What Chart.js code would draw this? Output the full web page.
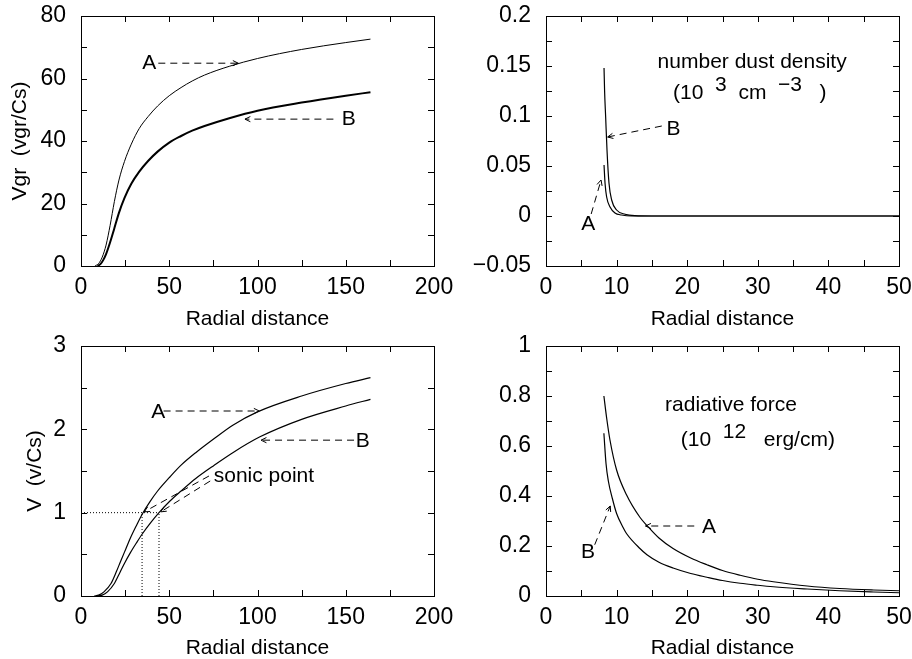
<!DOCTYPE html>
<html>
<head>
<meta charset="utf-8">
<script src="https://cdn.jsdelivr.net/npm/chart.js@4"></script>
<style>
  body { margin: 0; background: #fff; }
  canvas { position: absolute; }
</style>
</head>
<body>
<canvas id="c1" width="456" height="330" style="left:0;top:0;width:456px;height:330px"></canvas>
<canvas id="c2" width="456" height="330" style="left:456px;top:0;width:456px;height:330px"></canvas>
<canvas id="c3" width="456" height="329" style="left:0;top:330px;width:456px;height:329px"></canvas>
<canvas id="c4" width="456" height="329" style="left:456px;top:330px;width:456px;height:329px"></canvas>
<script>
// grain velocity Vgr/Cs vs radial distance
const vgrAx = [7.9, 10, 12, 14.2, 16.5, 18.9, 21.5, 24.6, 28.5, 33, 38, 43.4, 50, 56.7, 63, 70, 84, 100, 125, 150, 164];
const vgrA  = [0, 0.8, 2.8, 6.7, 13, 20.6, 27.5, 33.4, 39, 44, 47.8, 51.2, 54.5, 57.1, 59.2, 61.1, 63.9, 66.4, 69.3, 71.5, 72.6];
const vgrBx = [9.4, 11, 12.5, 14.2, 16.5, 18.9, 21.5, 24.6, 28.5, 33, 38, 43.4, 50, 56.7, 63, 70, 84, 100, 125, 150, 164];
const vgrB  = [0, 0.6, 1.8, 3.8, 7.6, 12.1, 17, 21.7, 26.3, 30.2, 33.6, 36.6, 39.5, 41.6, 43.3, 44.8, 47.3, 49.7, 52.3, 54.5, 55.6];

// number dust density (10^3 cm^-3)
const ndAx = [8.22, 8.36, 8.59, 9.07, 9.77, 10.7, 12.1, 15, 50];
const ndA  = [0.051, 0.033, 0.019, 0.009, 0.003, 0.001, 0, 0, 0];
const ndBx = [8.22, 8.3, 8.45, 8.64, 8.92, 9.3, 10, 11.2, 12.6, 15, 50];
const ndB  = [0.148, 0.125, 0.099, 0.066, 0.033, 0.016, 0.006, 0.0017, 0.0003, 0, 0];

// gas velocity V/Cs
const vAx = [7.5, 10, 13, 17, 20, 22.7, 25.5, 28.3, 31.5, 34.9, 39, 43.4, 50, 56.7, 65, 75.5, 86, 100, 125, 150, 164];
const vA  = [0, 0.01, 0.05, 0.15, 0.29, 0.43, 0.57, 0.71, 0.85, 0.99, 1.13, 1.26, 1.42, 1.57, 1.72, 1.89, 2.05, 2.21, 2.40, 2.55, 2.62];
const vBx = [9, 12, 15, 18.9, 22, 24.6, 28, 31.5, 34.9, 39.5, 44.2, 50.4, 56.7, 65, 75.5, 86, 101.4, 125, 150, 164];
const vB  = [0, 0.01, 0.05, 0.15, 0.28, 0.39, 0.52, 0.64, 0.75, 0.88, 1.0, 1.14, 1.26, 1.41, 1.57, 1.72, 1.91, 2.12, 2.28, 2.36];
const sonicA = 34.6, sonicB = 44.2;

// radiative force (10^12 erg/cm)
const frAx = [8.2, 8.6, 9.06, 10, 11.4, 13.3, 14.3, 16, 18, 20.5, 22.8, 25, 27.5, 30, 32.2, 37, 41.6, 46.4, 50];
const frA  = [0.80, 0.71, 0.624, 0.504, 0.405, 0.315, 0.282, 0.232, 0.19, 0.152, 0.125, 0.102, 0.083, 0.067, 0.057, 0.040, 0.030, 0.024, 0.021];
const frBx = [8.2, 8.5, 8.83, 9.4, 10, 10.9, 11.4, 13.3, 14.3, 16, 18, 20.5, 22.8, 25, 27.5, 30, 32.2, 37, 41.6, 46.4, 50];
const frB  = [0.651, 0.53, 0.46, 0.39, 0.33, 0.275, 0.25, 0.19, 0.165, 0.135, 0.112, 0.09, 0.075, 0.062, 0.051, 0.043, 0.037, 0.028, 0.021, 0.016, 0.013];

const FONT_FAMILY = "'Liberation Sans', Arial, sans-serif";
const FONT_SIZE = 21;
const TICK_SIZE = 23;
Chart.defaults.font.family = FONT_FAMILY;
Chart.defaults.font.size = FONT_SIZE;
Chart.defaults.color = '#000';

const pts = (xs, ys) => xs.map((x, i) => ({ x: x, y: ys[i] }));

function curve(xs, ys, w) {
    return { data: pts(xs, ys), borderColor: '#000', borderWidth: w, pointRadius: 0,
             showLine: true, cubicInterpolationMode: 'monotone', fill: false };
}
function seg(a, b, dash, isArrow) {
    return { data: [{ x: a[0], y: a[1] }, { x: b[0], y: b[1] }], borderColor: '#000', borderWidth: 1,
             borderDash: dash, pointRadius: 0, showLine: true, fill: false, arrow: isArrow };
}
const arrow = (a, b) => seg(a, b, [7, 5], true);
const dotted = (a, b) => seg(a, b, [1, 2], false);

// box with inward ticks on all four sides
const frame = {
    id: 'frame',
    afterDraw(chart) {
        const { ctx, chartArea: a, scales } = chart;
        ctx.save();
        ctx.strokeStyle = '#000';
        ctx.lineWidth = 1;
        ctx.strokeRect(a.left + 0.5, a.top + 0.5, a.width, a.height);
        ctx.beginPath();
        scales.x.ticks.forEach(t => {
            const p = Math.round(scales.x.getPixelForValue(t.value)) + 0.5;
            ctx.moveTo(p, a.bottom); ctx.lineTo(p, a.bottom - 6);
            ctx.moveTo(p, a.top); ctx.lineTo(p, a.top + 6);
        });
        scales.y.ticks.forEach(t => {
            const p = Math.round(scales.y.getPixelForValue(t.value)) + 0.5;
            ctx.moveTo(a.left, p); ctx.lineTo(a.left + 6, p);
            ctx.moveTo(a.right, p); ctx.lineTo(a.right - 6, p);
        });
        ctx.stroke();
        ctx.restore();
    }
};

// arrowheads and text notes placed in data coordinates
function notes(list) {
    return {
        id: 'notes',
        afterDatasetsDraw(chart) {
            const { ctx } = chart;
            const xs = chart.scales.x, ys = chart.scales.y;
            ctx.save();
            ctx.strokeStyle = '#000';
            ctx.fillStyle = '#000';
            ctx.lineWidth = 1;
            chart.data.datasets.forEach(ds => {
                if (!ds.arrow) return;
                const p = ds.data[0], q = ds.data[ds.data.length - 1];
                const x0 = xs.getPixelForValue(p.x), y0 = ys.getPixelForValue(p.y);
                const x1 = xs.getPixelForValue(q.x), y1 = ys.getPixelForValue(q.y);
                const ang = Math.atan2(y1 - y0, x1 - x0);
                ctx.beginPath();
                [-0.45, 0.45].forEach(d => {
                    ctx.moveTo(x1, y1);
                    ctx.lineTo(x1 - 6 * Math.cos(ang + d), y1 - 6 * Math.sin(ang + d));
                });
                ctx.stroke();
            });
            ctx.font = FONT_SIZE + 'px ' + FONT_FAMILY;
            ctx.textBaseline = 'middle';
            ctx.textAlign = 'left';
            list.forEach(n => {
                const parts = n.parts || [[n.text, 0]];
                let px = xs.getPixelForValue(n.x);
                const py = ys.getPixelForValue(n.y);
                if (n.align === 'center') {
                    px -= parts.reduce((s, p) => s + ctx.measureText(p[0]).width, 0) / 2;
                }
                parts.forEach(([t, up]) => {
                    ctx.fillText(t, px, py - up * 8);
                    px += ctx.measureText(t).width;
                });
            });
            ctx.restore();
        }
    };
}

function options(c) {
    return {
        responsive: false,
        animation: false,
        layout: { autoPadding: false, padding: { top: 16, right: c.right, bottom: 0, left: 0 } },
        plugins: { legend: { display: false }, tooltip: { enabled: false } },
        scales: {
            x: {
                type: 'linear', min: 0, max: c.xmax,
                grid: { display: false, drawTicks: false },
                border: { display: false },
                ticks: { stepSize: c.xstep, autoSkip: false, maxRotation: 0, padding: 8,
                         font: { size: TICK_SIZE },
                         callback: v => (v % c.xlab === 0 ? String(v) : '') },
                title: { display: true, text: 'Radial distance', padding: { top: 0, bottom: -2 } },
                afterFit: s => { s.height = c.xh; s.paddingLeft = 0; s.paddingRight = 0; }
            },
            y: {
                type: 'linear', min: c.ymin, max: c.ymax,
                grid: { display: false, drawTicks: false },
                border: { display: false },
                ticks: { stepSize: c.ystep, autoSkip: false, padding: 15,
                         font: { size: TICK_SIZE },
                         callback: v => {
                             const r = Math.round(v * 1000);
                             return r % c.ylab === 0 ? String(r / 1000).replace('-', '\u2212') : '';
                         } },
                title: { display: !!c.ytitle, text: c.ytitle || '', padding: { top: c.ytpad, bottom: 0 } },
                afterFit: s => { s.width = c.yw; s.paddingTop = 0; s.paddingBottom = 0; }
            }
        }
    };
}

new Chart(document.getElementById('c1'), {
    type: 'scatter',
    data: { datasets: [
        curve(vgrAx, vgrA, 1),
        curve(vgrBx, vgrB, 2),
        arrow([43.8, 64.9], [89.1, 64.9]),
        arrow([143, 47], [92.9, 47])
    ] },
    options: options({ right: 22, yw: 81, xh: 64, xmax: 200, xstep: 25, xlab: 50,
                       ymin: 0, ymax: 80, ystep: 10, ylab: 20000, ytitle: 'Vgr  (vgr/Cs)', ytpad: 8 }),
    plugins: [frame, notes([
        { text: 'A', x: 38.7, y: 64.9, align: 'center' },
        { text: 'B', x: 151.7, y: 47, align: 'center' }
    ])]
});

new Chart(document.getElementById('c2'), {
    type: 'scatter',
    data: { datasets: [
        curve(ndAx, ndA, 1.2),
        curve(ndBx, ndB, 1.2),
        arrow([16.4, 0.090], [8.73, 0.079]),
        arrow([6.4, 0.002], [7.8, 0.036])
    ] },
    options: options({ right: 13, yw: 90, xh: 64, xmax: 50, xstep: 5, xlab: 10,
                       ymin: -0.05, ymax: 0.2, ystep: 0.025, ylab: 50 }),
    plugins: [frame, notes([
        { text: 'number dust density', x: 29.2, y: 0.154, align: 'center' },
        { parts: [['(10  ', 0], ['3', 1], ['  cm  ', 0], ['\u22123', 1], ['   )', 0]], x: 18.0, y: 0.123 },
        { text: 'B', x: 18.06, y: 0.087, align: 'center' },
        { text: 'A', x: 5.97, y: -0.008, align: 'center' }
    ])]
});

new Chart(document.getElementById('c3'), {
    type: 'scatter',
    data: { datasets: [
        curve(vAx, vA, 1.2),
        curve(vBx, vB, 1.2),
        dotted([0, 1], [sonicB, 1]),
        dotted([sonicA, 0], [sonicA, 1]),
        dotted([sonicB, 0], [sonicB, 1]),
        arrow([46.8, 2.22], [101, 2.22]),
        arrow([154.7, 1.87], [102, 1.87]),
        arrow([72.5, 1.44], [35.8, 1.01]),
        arrow([73.2, 1.38], [45.2, 1.01])
    ] },
    options: options({ right: 22, yw: 81, xh: 63, xmax: 200, xstep: 25, xlab: 50,
                       ymin: 0, ymax: 3, ystep: 0.5, ylab: 1000, ytitle: 'V  (v/Cs)', ytpad: 23 }),
    plugins: [frame, notes([
        { text: 'A', x: 43.8, y: 2.2, align: 'center' },
        { text: 'B', x: 159.6, y: 1.86, align: 'center' },
        { text: 'sonic point', x: 75.2, y: 1.44 }
    ])]
});

new Chart(document.getElementById('c4'), {
    type: 'scatter',
    data: { datasets: [
        curve(frAx, frA, 1.2),
        curve(frBx, frB, 1.2),
        arrow([21.0, 0.28], [14.1, 0.28]),
        arrow([6.9, 0.205], [9.1, 0.36])
    ] },
    options: options({ right: 13, yw: 90, xh: 63, xmax: 50, xstep: 5, xlab: 10,
                       ymin: 0, ymax: 1, ystep: 0.1, ylab: 200 }),
    plugins: [frame, notes([
        { text: 'radiative force', x: 26.2, y: 0.764, align: 'center' },
        { parts: [['(10  ', 0], ['12', 1], ['   erg/cm)', 0]], x: 19.1, y: 0.624 },
        { text: 'A', x: 23.1, y: 0.275, align: 'center' },
        { text: 'B', x: 5.95, y: 0.177, align: 'center' }
    ])]
});
</script>
</body>
</html>
